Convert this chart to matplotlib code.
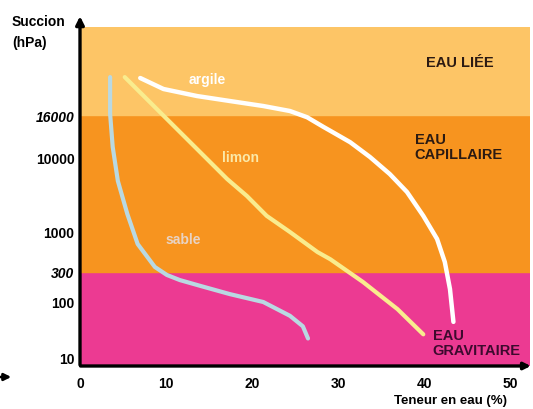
import matplotlib
matplotlib.use('Agg')
import matplotlib.pyplot as plt
import numpy as np

plt.rcParams['font.family'] = ['Liberation Sans', 'DejaVu Sans']

# ------------------------------------------------------------
# Data: water content (%) vs suction (hPa)
# ------------------------------------------------------------
sable_x = [3.5, 3.5, 3.8, 4.4, 5.5, 6.7, 8.7, 10.1, 11.6, 14.0, 17.4, 21.3, 24.4, 25.9, 26.5]
sable_y = [95000, 16800, 11200, 4790, 1740, 697, 349, 268, 221, 177, 130, 96, 55, 36, 22]

limon_x = [5.2, 17.1, 19.4, 21.7, 24.4, 27.6, 29.1, 32.9, 36.9, 39.9]
limon_y = [95000, 5090, 3020, 1640, 1000, 547, 440, 205, 72, 26]

argile_x = [7.0, 9.7, 13.6, 17.4, 21.3, 24.4, 26.4, 28.3, 29.1, 31.4, 33.7, 36.0, 38.0,
            39.9, 41.5, 42.4, 43.0, 43.4]
argile_y = [91000, 54300, 39000, 30900, 24400, 19300, 15600, 14000, 13400, 11800, 10000,
            5930, 3420, 1640, 810, 405, 157, 43]

x_ticks = [0, 10, 20, 30, 40, 50]
y_ticks = [10, 100, 300, 1000, 10000, 16000]
y_italic = [300, 16000]
band_limits = [300, 16000]   # gravitaire / capillaire / liee

# the drawn suction axis is neither linear nor log: piecewise in log10
scale_vals = np.log10([1, 10, 100, 300, 1000, 10000, 16000, 1e6])
scale_pos = np.array([-50, 8, 65, 94, 134, 209, 251, 339], dtype=float)


def forward(v):
    with np.errstate(divide='ignore', invalid='ignore'):
        lv = np.log10(np.clip(v, 1e-9, None))
    return np.interp(lv, scale_vals, scale_pos)


def inverse(p):
    return 10 ** np.interp(p, scale_pos, scale_vals)


fig = plt.figure(figsize=(5.33, 4.10), dpi=100)
ax = fig.add_axes([80 / 533, 43 / 410, 450 / 533, 339 / 410])
ax.set_yscale('function', functions=(forward, inverse))
y_bottom = float(inverse(0))
y_top = 1e6
ax.set_xlim(0, 52.3)
ax.set_ylim(y_bottom, y_top)

# coloured bands
ax.axhspan(y_bottom, band_limits[0], color='#ec3a92', zorder=0)
ax.axhspan(band_limits[0], band_limits[1], color='#f7941f', zorder=0)
ax.axhspan(band_limits[1], y_top, color='#fdc566', zorder=0)

# curves
ax.plot(sable_x, sable_y, color='#b9d9e2', lw=3, solid_capstyle='round', solid_joinstyle='round', zorder=3)
ax.plot(limon_x, limon_y, color='#f9ec8e', lw=3, solid_capstyle='round', solid_joinstyle='round', zorder=3)
ax.plot(argile_x, argile_y, color='white', lw=3.2, solid_capstyle='round', solid_joinstyle='round', zorder=3)

# curve names
ax.text(0.282, 0.847, 'argile', transform=ax.transAxes, color='white', fontsize=10,
        fontweight='bold', ha='center', va='center')
ax.text(0.356, 0.617, 'limon', transform=ax.transAxes, color='#fbe9a8', fontsize=10,
        fontweight='bold', ha='center', va='center')
ax.text(0.229, 0.375, 'sable', transform=ax.transAxes, color='#e8d3c4', fontsize=10,
        fontweight='bold', ha='center', va='center')

# zone names
ax.text(0.844, 0.897, 'EAU LIÉE', transform=ax.transAxes, color='#2b1a12', fontsize=10.5,
        fontweight='bold', ha='center', va='center')
ax.text(0.744, 0.647, 'EAU\nCAPILLAIRE', transform=ax.transAxes, color='#2b1a12', fontsize=10.5,
        fontweight='bold', ha='left', va='center', linespacing=1.1)
ax.text(0.784, 0.068, 'EAU\nGRAVITAIRE', transform=ax.transAxes, color='#3d0a2e', fontsize=10.5,
        fontweight='bold', ha='left', va='center', linespacing=1.1)

# ticks
ax.set_xticks(x_ticks)
ax.set_yticks(y_ticks)
ax.set_yticklabels([str(t) for t in y_ticks])
ax.yaxis.set_minor_locator(matplotlib.ticker.NullLocator())
ax.tick_params(length=0, labelsize=10, pad=4)
ax.tick_params(axis='x', pad=7)
for lab in ax.get_xticklabels() + ax.get_yticklabels():
    lab.set_fontweight('bold')
for lab, t in zip(ax.get_yticklabels(), y_ticks):
    if t in y_italic:
        lab.set_fontstyle('italic')

# axes drawn as arrows
for s in ax.spines.values():
    s.set_visible(False)
ax.annotate('', xy=(0, 1.04), xytext=(0, -0.005), xycoords='axes fraction',
            arrowprops=dict(arrowstyle='-|>', lw=2.4, color='black', mutation_scale=12),
            annotation_clip=False)
ax.annotate('', xy=(1.008, 0), xytext=(-0.005, 0), xycoords='axes fraction',
            arrowprops=dict(arrowstyle='-|>', lw=2.4, color='black', mutation_scale=10),
            annotation_clip=False)

# axis titles
fig.text(12 / 533, 1 - 22 / 410, 'Succion', fontsize=10, fontweight='bold', ha='left', va='center')
fig.text(12 / 533, 1 - 43 / 410, '(hPa)', fontsize=10, fontweight='bold', ha='left', va='center')
fig.text(451 / 533, 1 - 401 / 410, 'Teneur en eau (%)', fontsize=9.5, fontweight='bold',
         ha='center', va='center')

# cropped arrow fragment at the left edge
fig.patches.append(matplotlib.patches.FancyArrowPatch(
    (-2 / 533, 1 - 378 / 410), (14 / 533, 1 - 378 / 410), transform=fig.transFigure,
    arrowstyle='-|>', lw=2, color='black', mutation_scale=10))

fig.savefig('out.png', dpi=100)
